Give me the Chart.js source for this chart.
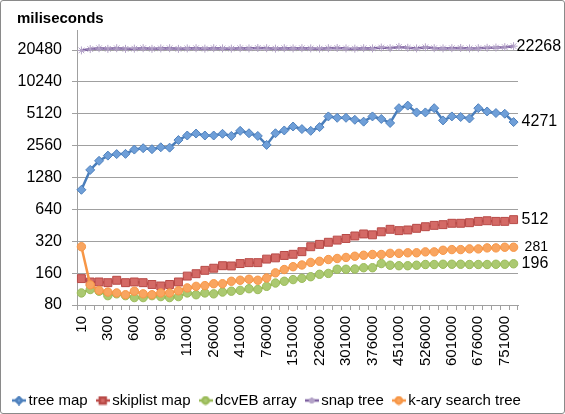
<!DOCTYPE html>
<html>
<head>
<meta charset="utf-8">
<script src="https://cdn.jsdelivr.net/npm/chart.js@4.4.1/dist/chart.umd.min.js"></script>
<style>
  body { margin: 0; background: #fff; }
  #wrap {
    position: relative;
    width: 565px;
    height: 414px;
    box-sizing: border-box;
    border: 1px solid #8a8a8a;
    border-radius: 3px;
  }
</style>
</head>
<body>
<div id="wrap"><canvas id="chart"></canvas></div>
<script>
const CATEGORIES = [
  '10', '100', '200', '300', '400', '500', '600', '700', '800', '900', '1000',
  '6000', '11000', '16000', '21000', '26000', '31000', '36000', '41000', '46000', '51000',
  '76000', '101000', '126000', '151000', '176000', '201000', '226000', '251000', '276000',
  '301000', '326000', '351000', '376000', '401000', '426000', '451000', '476000', '501000',
  '526000', '551000', '576000', '601000', '626000', '651000', '676000', '701000', '726000',
  '751000', '776000'
];

const X_TICK_LABELS = ['10', '300', '600', '900', '11000', '26000', '41000', '76000', '151000',
  '226000', '301000', '376000', '451000', '526000', '601000', '676000', '751000'];

const Y_TICKS = [80, 160, 320, 640, 1280, 2560, 5120, 10240, 20480];

const TREE_MAP = [
  980, 1510, 1840, 2060, 2130, 2140, 2350, 2420, 2370, 2470,
  2450, 2890, 3190, 3330, 3190, 3190, 3310, 3160, 3530, 3350,
  3160, 2600, 3350, 3560, 3880, 3670, 3530, 3830, 4830, 4690,
  4690, 4490, 4310, 4830, 4570, 4190, 5780, 6110, 5270, 5270,
  5780, 4430, 4830, 4770, 4620, 5780, 5380, 5200, 5120, 4271
];

const SKIPLIST_MAP = [
  142, 132, 132, 130, 137, 130, 132, 130, 125, 121,
  125, 132, 150, 158, 170, 178, 188, 187, 197, 201,
  201, 217, 223, 235, 241, 255, 284, 299, 313, 328,
  340, 359, 375, 368, 393, 415, 403, 409, 424, 439,
  452, 459, 473, 473, 479, 493, 500, 493, 493, 512
];

const DCVEB_ARRAY = [
  104, 112, 108, 98, 102, 98, 94, 94, 98, 96,
  94, 96, 104, 100, 104, 102, 106, 108, 110, 114,
  112, 120, 129, 134, 139, 143, 148, 156, 159, 174,
  174, 175, 180, 180, 197, 190, 188, 188, 190, 193,
  193, 194, 194, 194, 193, 193, 193, 194, 194, 196
];

const SNAP_TREE = [
  20300, 20900, 21300, 21000, 21300, 21000, 21100, 21300, 21000, 21200,
  21300, 21000, 21200, 21300, 21100, 21300, 21200, 21100, 21300, 21200,
  21400, 21300, 21100, 21300, 21200, 21300, 21200, 21100, 21300, 21400,
  21200, 21100, 21300, 21200, 21600, 21300, 21900, 21500, 21200, 21700,
  21300, 21200, 21300, 21400, 21200, 21300, 21500, 21600, 21800, 22268
];

const KARY_SEARCH_TREE = [
  284, 124, 110, 106, 104, 100, 108, 102, 100, 104,
  104, 109, 116, 120, 122, 127, 127, 134, 137, 140,
  137, 144, 161, 173, 184, 191, 202, 207, 215, 220,
  225, 231, 236, 240, 240, 246, 246, 249, 249, 254,
  254, 263, 267, 267, 271, 271, 277, 277, 281, 281
];

const FONT = '"Liberation Sans", Arial, sans-serif';
const GRID = '#a0a0a0';

Chart.defaults.font.family = FONT;
Chart.defaults.color = '#000';

function series(label, data, line, fill, border, style, radius, extra) {
  return Object.assign({
    label,
    data,
    borderColor: line,
    backgroundColor: line,
    borderWidth: 2.5,
    pointStyle: style,
    pointRadius: radius,
    pointBackgroundColor: fill,
    pointBorderColor: border,
    pointBorderWidth: 1,
    tension: 0,
    endLabelGap: 8,
    endLabelSize: 16,
  }, extra || {});
}

const datasets = [
  series('tree map', TREE_MAP, '#4a7ebb', '#6f9fd8', '#4f81bd', 'rectRot', 4.5, { order: 5 }),
  series('skiplist map', SKIPLIST_MAP, '#be4b48', '#d46a66', '#b84a47', 'rect', 5.6, { order: 4 }),
  series('dcvEB array', DCVEB_ARRAY, '#98b954', '#abc971', '#9bbb59', 'circle', 4.2, { order: 3 }),
  series('snap tree', SNAP_TREE, '#7d60a0', 'rgba(0,0,0,0)', '#b3a2c7', 'star', 4, { order: 2, endLabelGap: 3 }),
  series('k-ary search tree', KARY_SEARCH_TREE, '#f79646', '#f9a560', '#f79646', 'circle', 4.2,
    { order: 1, endLabelGap: 11, endLabelSize: 14 }),
];

// little line + marker swatch for each legend entry
function legendIcon(ds) {
  const c = document.createElement('canvas');
  c.width = 14;
  c.height = 10;
  const g = c.getContext('2d');
  g.strokeStyle = ds.borderColor;
  g.lineWidth = 2.5;
  g.beginPath();
  g.moveTo(0, 5);
  g.lineTo(14, 5);
  g.stroke();
  g.fillStyle = ds.pointBackgroundColor;
  g.strokeStyle = ds.pointBorderColor;
  Chart.helpers.drawPoint(g, { pointStyle: ds.pointStyle, radius: ds.pointRadius * 0.75, borderWidth: 1 }, 7, 5);
  return c;
}

const cornerTitle = {
  id: 'cornerTitle',
  afterDraw(chart) {
    const { ctx } = chart;
    ctx.save();
    ctx.font = `bold 15px ${FONT}`;
    ctx.fillStyle = '#000';
    ctx.textAlign = 'left';
    ctx.textBaseline = 'middle';
    ctx.fillText('miliseconds', 16, 17.5);
    ctx.restore();
  }
};

const endLabels = {
  id: 'endLabels',
  afterDatasetsDraw(chart) {
    const { ctx } = chart;
    ctx.save();
    ctx.fillStyle = '#000';
    ctx.textAlign = 'left';
    ctx.textBaseline = 'middle';
    chart.data.datasets.forEach((ds, i) => {
      const pts = chart.getDatasetMeta(i).data;
      const last = pts[pts.length - 1];
      ctx.font = `${ds.endLabelSize}px ${FONT}`;
      ctx.fillText(String(ds.data[ds.data.length - 1]), last.x + ds.endLabelGap, last.y);
    });
    ctx.restore();
  }
};

new Chart(document.getElementById('chart'), {
  type: 'line',
  data: { labels: CATEGORIES, datasets },
  plugins: [cornerTitle, endLabels],
  options: {
    responsive: true,
    maintainAspectRatio: false,
    animation: false,
    layout: { padding: { left: 3, right: 0, top: 29, bottom: 0 } },
    plugins: {
      title: { display: false },
      tooltip: { enabled: false },
      legend: {
        position: 'bottom',
        align: 'start',
        maxHeight: 33,
        labels: {
          usePointStyle: true,
          pointStyleWidth: 4,
          padding: 13,
          color: '#000',
          font: { size: 15 },
          sort: (a, b) => a.datasetIndex - b.datasetIndex,
          generateLabels: chart => {
            const items = Chart.defaults.plugins.legend.labels.generateLabels(chart);
            items.forEach(item => {
              item.pointStyle = legendIcon(chart.data.datasets[item.datasetIndex]);
            });
            return items;
          }
        }
      }
    },
    scales: {
      x: {
        type: 'category',
        offset: true,
        grid: { display: true, drawOnChartArea: false, drawTicks: true, tickLength: 5, offset: true, color: GRID },
        border: { display: true, color: GRID },
        ticks: {
          autoSkip: false,
          minRotation: 90,
          maxRotation: 90,
          padding: 6,
          color: '#000',
          font: { size: 15 },
          callback: (v, i) => X_TICK_LABELS.includes(CATEGORIES[i]) ? CATEGORIES[i] : ''
        },
        afterFit: s => { s.height = 75; }
      },
      y: {
        type: 'logarithmic',
        min: 80,
        max: 31640,
        afterBuildTicks: s => { s.ticks = Y_TICKS.map(value => ({ value })); },
        grid: { color: GRID, tickLength: 5 },
        border: { display: true, color: GRID },
        ticks: {
          autoSkip: false,
          padding: 10,
          color: '#000',
          font: { size: 16 },
          callback: v => String(v)
        },
        afterFit: s => { s.width = 73; }
      },
      // empty strip on the right that holds the end-of-line values
      yRight: {
        position: 'right',
        display: true,
        grid: { display: false, drawTicks: false },
        border: { display: false },
        ticks: { display: false },
        afterFit: s => { s.width = 46; }
      }
    }
  }
});
</script>
</body>
</html>
